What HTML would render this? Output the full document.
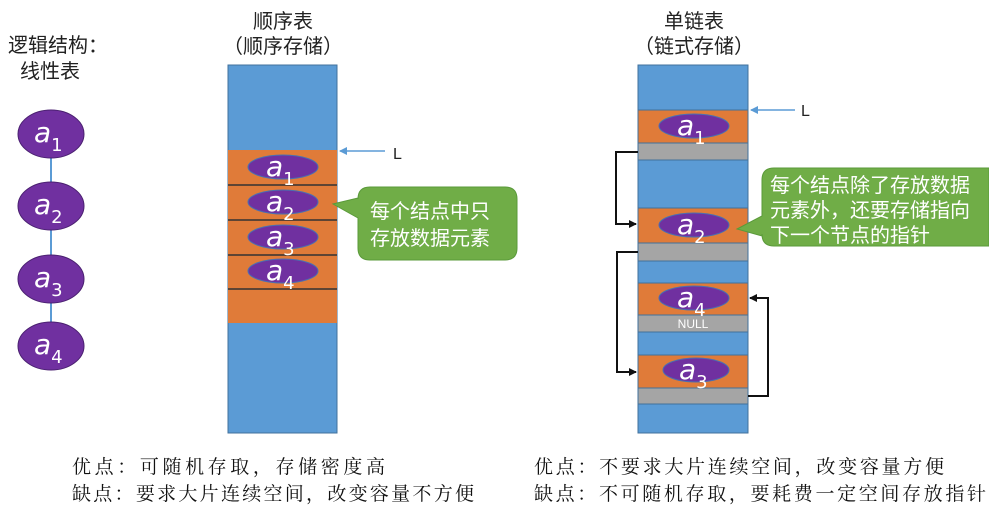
<!DOCTYPE html>
<html><head><meta charset="utf-8"><style>
body{margin:0;background:#fff}
svg{display:block}
.t{font-family:"Liberation Sans","Noto Sans CJK SC",sans-serif;font-size:20px;fill:#222}
.w{font-family:"Liberation Sans","Noto Sans CJK SC",sans-serif;font-size:20px;fill:#fff}
.b{font-family:"Noto Serif CJK SC","Liberation Serif",serif;font-size:19px;fill:#111}
.a{font-family:"DejaVu Sans","Liberation Sans",sans-serif;font-style:italic;font-size:28px;fill:#fff}
.s{font-size:18px;font-style:normal}
</style></head><body>
<svg width="989" height="511" viewBox="0 0 989 511" xmlns="http://www.w3.org/2000/svg">
<defs>
<marker id="ab" markerWidth="8" markerHeight="8" refX="7" refY="4" orient="auto" markerUnits="userSpaceOnUse"><path d="M0,0 L8,4 L0,8 z" fill="#5b9bd5"/></marker>
<marker id="ak" markerWidth="8" markerHeight="8" refX="7" refY="4" orient="auto" markerUnits="userSpaceOnUse"><path d="M0,0 L8,4 L0,8 z" fill="#111"/></marker>
</defs>
<text class="t" x="8" y="52">逻辑结构：</text>
<text class="t" x="20" y="78">线性表</text>
<line x1="51" y1="150" x2="51" y2="330" stroke="#5b9bd5" stroke-width="2"/>
<g fill="#7030a0" stroke="#4a2070" stroke-width="1">
<ellipse cx="51" cy="134" rx="33" ry="24"/><ellipse cx="51" cy="206" rx="33" ry="24"/>
<ellipse cx="51" cy="279" rx="33" ry="24"/><ellipse cx="51" cy="346" rx="33" ry="24"/></g>
<text class="a" x="34" y="142">a<tspan class="s" dy="9">1</tspan></text>
<text class="a" x="34" y="214">a<tspan class="s" dy="9">2</tspan></text>
<text class="a" x="34" y="287">a<tspan class="s" dy="9">3</tspan></text>
<text class="a" x="34" y="354">a<tspan class="s" dy="9">4</tspan></text>

<text class="t" x="283" y="28" text-anchor="middle">顺序表</text>
<text class="t" x="283" y="53" text-anchor="middle">（顺序存储）</text>
<rect x="228" y="65" width="109" height="368" fill="#5b9bd5" stroke="#41719c"/>
<rect x="228" y="150" width="109" height="173" fill="#e07b39"/>
<g stroke="#333" stroke-width="1.5"><line x1="228" y1="185" x2="337" y2="185"/><line x1="228" y1="220" x2="337" y2="220"/><line x1="228" y1="255" x2="337" y2="255"/><line x1="228" y1="289" x2="337" y2="289"/></g>
<g fill="#7030a0" stroke="#4a70b0"><ellipse cx="283" cy="167" rx="35" ry="12"/><ellipse cx="283" cy="202" rx="35" ry="12"/><ellipse cx="283" cy="237" rx="35" ry="12"/><ellipse cx="283" cy="271" rx="35" ry="12"/></g>
<text class="a" x="266" y="176">a<tspan class="s" dy="9">1</tspan></text>
<text class="a" x="266" y="211">a<tspan class="s" dy="9">2</tspan></text>
<text class="a" x="266" y="246">a<tspan class="s" dy="9">3</tspan></text>
<text class="a" x="266" y="280">a<tspan class="s" dy="9">4</tspan></text>
<line x1="385" y1="151" x2="340" y2="151" stroke="#5b9bd5" stroke-width="1.5" marker-end="url(#ab)"/>
<text class="t" x="393" y="159" style="font-size:16px">L</text>
<path d="M370,187 H505 Q517,187 517,199 V248 Q517,260 505,260 H370 Q358,260 358,248 V218 L333,204 L358,198 V199 Q358,187 370,187 Z" fill="#70ad47" stroke="#5a9a3a"/>
<text class="w" x="370" y="218">每个结点中只</text>
<text class="w" x="370" y="245">存放数据元素</text>

<text class="t" x="694" y="28" text-anchor="middle">单链表</text>
<text class="t" x="694" y="53" text-anchor="middle">（链式存储）</text>
<rect x="638" y="65" width="110" height="368" fill="#5b9bd5" stroke="#41719c"/>
<g fill="#e07b39" stroke="#41719c"><rect x="638" y="110" width="110" height="33"/><rect x="638" y="208" width="110" height="35"/><rect x="638" y="283" width="110" height="32"/><rect x="638" y="355" width="110" height="33"/></g>
<g fill="#a5a5a5" stroke="#41719c"><rect x="638" y="143" width="110" height="17"/><rect x="638" y="243" width="110" height="18"/><rect x="638" y="315" width="110" height="17"/><rect x="638" y="388" width="110" height="16"/></g>
<g fill="#7030a0" stroke="#4a70b0"><ellipse cx="694" cy="126" rx="35" ry="12"/><ellipse cx="694" cy="225" rx="35" ry="12"/><ellipse cx="694" cy="298" rx="35" ry="12"/><ellipse cx="696" cy="370" rx="33" ry="12"/></g>
<text class="a" x="677" y="135">a<tspan class="s" dy="9">1</tspan></text>
<text class="a" x="677" y="234">a<tspan class="s" dy="9">2</tspan></text>
<text class="a" x="677" y="307">a<tspan class="s" dy="9">4</tspan></text>
<text class="a" x="679" y="379">a<tspan class="s" dy="9">3</tspan></text>
<text x="693" y="328" text-anchor="middle" style="font-family:'Liberation Sans',sans-serif;font-size:12px;fill:#fff">NULL</text>
<line x1="795" y1="110" x2="751" y2="110" stroke="#5b9bd5" stroke-width="1.5" marker-end="url(#ab)"/>
<text class="t" x="801" y="116" style="font-size:16px">L</text>
<g fill="none" stroke="#111" stroke-width="2">
<path d="M638,152 H616 V224 H636" marker-end="url(#ak)"/>
<path d="M638,252 H617 V372 H636" marker-end="url(#ak)"/>
<path d="M748,396 H768 V298 H750" marker-end="url(#ak)"/>
</g>
<path d="M774,168 H989 V246 H774 Q762,246 762,234 V236 L737,229 L762,216 V180 Q762,168 774,168 Z" fill="#70ad47" stroke="#5a9a3a"/>
<text class="w" x="770" y="192">每个结点除了存放数据</text>
<text class="w" x="770" y="217">元素外，还要存储指向</text>
<text class="w" x="770" y="242">下一个节点的指针</text>

<text class="b" x="72" y="473" textLength="313">优点：可随机存取，存储密度高</text>
<text class="b" x="72" y="500" textLength="402">缺点：要求大片连续空间，改变容量不方便</text>
<text class="b" x="534" y="473" textLength="410">优点：不要求大片连续空间，改变容量方便</text>
<text class="b" x="534" y="500" textLength="452">缺点：不可随机存取，要耗费一定空间存放指针</text>
</svg>
</body></html>
